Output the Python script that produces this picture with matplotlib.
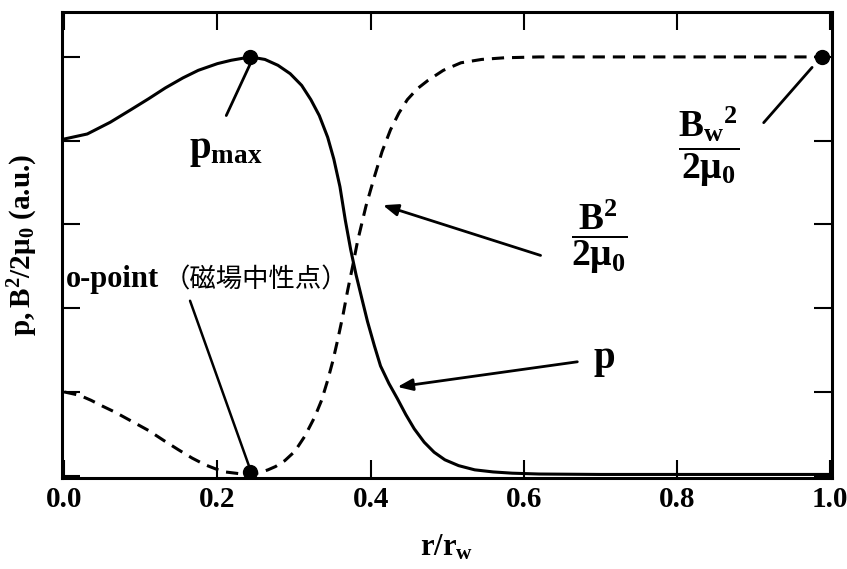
import matplotlib
matplotlib.use("Agg")
import matplotlib.pyplot as plt

plt.rcParams["font.family"] = ["Liberation Serif", "DejaVu Serif"]
plt.rcParams["font.weight"] = "bold"
plt.rcParams["mathtext.fontset"] = "custom"
plt.rcParams["mathtext.rm"] = "Liberation Serif:bold"
plt.rcParams["mathtext.bf"] = "Liberation Serif:bold"
plt.rcParams["mathtext.it"] = "Liberation Serif:bold"

# pressure profile p(r)
p_r = [0.0, 0.03, 0.06, 0.087, 0.11, 0.132, 0.155, 0.175, 0.20, 0.218,
       0.243, 0.262, 0.279, 0.295, 0.310, 0.322, 0.333, 0.344, 0.352, 0.360,
       0.367, 0.374, 0.381, 0.389, 0.396, 0.405, 0.413, 0.424, 0.435, 0.446,
       0.457, 0.470, 0.483, 0.497, 0.515, 0.536, 0.56, 0.585, 0.62, 0.7,
       0.85, 1.0]
p_val = [4.02, 4.08, 4.22, 4.37, 4.50, 4.63, 4.75, 4.84, 4.92, 4.96,
         5.0, 4.97, 4.90, 4.80, 4.66, 4.49, 4.30, 4.04, 3.78, 3.45,
         3.05, 2.70, 2.40, 2.10, 1.84, 1.55, 1.31, 1.10, 0.92, 0.73,
         0.56, 0.40, 0.28, 0.19, 0.12, 0.07, 0.045, 0.03, 0.02, 0.015,
         0.015, 0.015]

# magnetic pressure B^2/2mu0
b_r = [0.0, 0.02, 0.035, 0.05, 0.066, 0.088, 0.11, 0.13, 0.149, 0.167,
       0.184, 0.198, 0.21, 0.228, 0.243, 0.255, 0.266, 0.276, 0.288, 0.301,
       0.314, 0.327, 0.336, 0.344, 0.351, 0.357, 0.364, 0.370, 0.377, 0.383,
       0.394, 0.405, 0.415, 0.426, 0.437, 0.448, 0.461, 0.475, 0.495, 0.518,
       0.545, 0.575, 0.62, 1.0]
b_val = [1.0, 0.96, 0.90, 0.83, 0.76, 0.65, 0.54, 0.42, 0.31, 0.21,
         0.13, 0.08, 0.045, 0.025, 0.02, 0.035, 0.07, 0.11, 0.18, 0.29,
         0.47, 0.70, 0.90, 1.14, 1.38, 1.62, 1.92, 2.21, 2.52, 2.80,
         3.22, 3.57, 3.87, 4.13, 4.33, 4.49, 4.62, 4.72, 4.84, 4.93,
         4.97, 4.99, 5.0, 5.0]

# marked points: p_max, o-point, wall value
pmax_pt = (0.243, 5.0)
opoint_pt = (0.243, 0.045)
wall_pt = (0.99, 5.0)

x_ticks = [0.0, 0.2, 0.4, 0.6, 0.8, 1.0]
x_labels = ["0.0", "0.2", "0.4", "0.6", "0.8", "1.0"]
y_ticks = [0, 1, 2, 3, 4, 5]

fig = plt.figure(figsize=(8.47, 5.69), dpi=100)
ax = fig.add_axes([0.0732, 0.160, 0.909, 0.819])

ax.plot(p_r, p_val, color="black", lw=2.2, solid_joinstyle="round")
ax.plot(b_r, b_val, color="black", lw=2.2, linestyle=(0, (4.0, 2.6)))

for pt in (pmax_pt, opoint_pt, wall_pt):
    ax.plot(pt[0], pt[1], "o", color="black", markersize=10, zorder=5)

ax.set_xlim(-0.003, 1.0025)
ax.set_ylim(-0.027, 5.537)
ax.set_xticks(x_ticks)
ax.set_xticklabels(x_labels)
ax.set_yticks(y_ticks)
ax.set_yticklabels([])
ax.tick_params(direction="in", length=13, width=1.5, top=True, right=True,
               labelsize=21, pad=6)
for s in ax.spines.values():
    s.set_linewidth(2.2)

ax.set_xlabel(r"$\mathbf{r/r_{w}}$", fontsize=22, labelpad=14)
ax.set_ylabel(r"$\mathbf{p,B^{2}/2μ_{0}}$ (a.u.)", fontsize=21,
              fontweight="bold", labelpad=10)

# annotations
line_kw = dict(color="black", lw=2.0)
head = "-|>,head_length=0.9,head_width=0.35"

ax.annotate("", xy=(0.244, 4.94), xytext=(0.210, 4.27),
            arrowprops=dict(arrowstyle="-", **line_kw))
ax.text(0.211, 3.88, r"$\mathbf{p_{max}}$", fontsize=28, ha="center", va="center")

ax.annotate("", xy=(0.243, 0.07), xytext=(0.163, 2.12),
            arrowprops=dict(arrowstyle="-", color="black", lw=1.8))
ax.text(0.002, 2.34, "o-point", fontsize=22, ha="left", va="center")
ax.text(0.130, 2.34, "（磁場中性点）", fontsize=19, ha="left", va="center",
        family=["Noto Sans CJK JP", "DejaVu Sans"], weight="normal")

ax.annotate("", xy=(0.416, 3.23), xytext=(0.622, 2.63),
            arrowprops=dict(arrowstyle=head, shrinkA=0, shrinkB=0, **line_kw))
ax.text(0.699, 2.86, r"$\dfrac{\mathbf{B^{2}}}{\mathbf{2μ_{0}}}$", fontsize=27,
        ha="center", va="center")

ax.annotate("", xy=(0.435, 1.06), xytext=(0.670, 1.36),
            arrowprops=dict(arrowstyle=head, shrinkA=0, shrinkB=0, **line_kw))
ax.text(0.705, 1.38, r"$\mathbf{p}$", fontsize=28, ha="center", va="center")

ax.annotate("", xy=(0.979, 4.90), xytext=(0.911, 4.19),
            arrowprops=dict(arrowstyle="-", **line_kw))
ax.text(0.842, 3.92, r"$\dfrac{\mathbf{B_{w}}^{2}}{\mathbf{2μ_{0}}}$", fontsize=27,
        ha="center", va="center")

fig.savefig("out.png", dpi=100)
